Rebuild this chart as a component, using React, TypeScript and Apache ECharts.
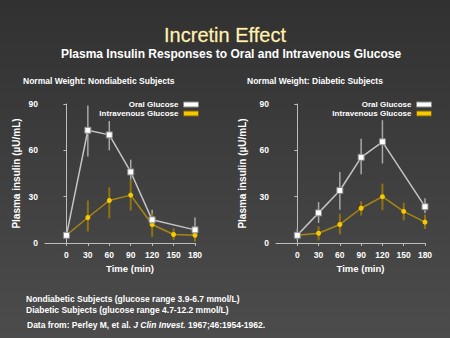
import React, { useEffect, useRef } from "react";
import * as echarts from "echarts";

const timeTicks = [0, 30, 60, 90, 120, 150, 180];
const yTicks = [0, 30, 60, 90];

// Nondiabetic subjects
const ndOralTimes = [0, 30, 60, 90, 120, 180];
const ndOralMean = [5, 73, 70, 46, 15, 8.5];
const ndOralLow = [5, 56, 60, 41, 10, 2];
const ndOralHigh = [5, 89, 79, 54, 21.5, 16.5];
const ndIvTimes = [0, 30, 60, 90, 120, 150, 180];
const ndIvMean = [5, 16.5, 27.5, 31, 12, 5.5, 5];
const ndIvLow = [5, 7.5, 16, 21, 4, 2, 1];
const ndIvHigh = [5, 27.5, 36, 41, 19, 9.5, 6.5];

// Diabetic subjects
const dOralTimes = [0, 30, 60, 90, 120, 180];
const dOralMean = [5, 19.5, 34, 55.5, 65.5, 23.5];
const dOralLow = [1.7, 13, 21.5, 44.5, 51.5, 19.5];
const dOralHigh = [9, 26.5, 46, 67.5, 79.5, 29];
const dIvTimes = [0, 30, 60, 90, 120, 150, 180];
const dIvMean = [5, 6.3, 12, 22.5, 30, 20.5, 13.5];
const dIvLow = [5, 1.7, 5.6, 17.8, 21.3, 14.7, 9];
const dIvHigh = [5, 10.8, 19, 27, 38.5, 26, 18.5];

const ORAL_LINE = "#c4c4c4";
const ORAL_BAR = "#a8a8a8";
const IV_LINE = "#a8870f";
const IV_BAR = "#8f7212";
const IV_FILL = "#f5c800";
const FONT = "Liberation Sans, Arial, sans-serif";

function pairs(t: number[], v: number[]) {
  return t.map((x, i) => [x, v[i]]);
}
function bars(t: number[], lo: number[], hi: number[]) {
  return t.map((x, i) => [x, lo[i], hi[i]]);
}

function errSeries(data: number[][], idx: number, color: string, width: number) {
  return {
    type: "custom",
    xAxisIndex: idx,
    yAxisIndex: idx,
    z: 1,
    silent: true,
    data,
    renderItem: (params: any, api: any) => {
      const a = api.coord([api.value(0), api.value(1)]);
      const b = api.coord([api.value(0), api.value(2)]);
      return {
        type: "line",
        shape: { x1: a[0], y1: a[1], x2: b[0], y2: b[1] },
        style: { stroke: color, lineWidth: width },
      };
    },
  };
}

function xAxis(idx: number, nameGap: number) {
  return {
    type: "value",
    gridIndex: idx,
    min: -30,
    max: 180,
    interval: 30,
    name: "Time (min)",
    nameLocation: "middle",
    nameGap,
    nameTextStyle: { color: "#ffffff", fontSize: 9.5, fontWeight: "bold", fontFamily: FONT, padding: [0, 0, 0, 20] },
    axisLine: { show: true, lineStyle: { color: "#bdbdbd", width: 1 } },
    axisTick: { show: true, length: 3, lineStyle: { color: "#bdbdbd" }, customValues: timeTicks },
    axisLabel: { color: "#ffffff", fontSize: 8.5, fontWeight: "bold", fontFamily: FONT, margin: 7, customValues: timeTicks },
    splitLine: { show: false },
  };
}

function yAxis(idx: number, nameGap: number) {
  return {
    type: "value",
    gridIndex: idx,
    min: 0,
    max: 90,
    interval: 30,
    name: "Plasma insulin (\u00b5U/mL)",
    nameLocation: "middle",
    nameGap,
    nameTextStyle: { color: "#ffffff", fontSize: 10, fontWeight: "bold", fontFamily: FONT },
    axisLine: { show: true, lineStyle: { color: "#bdbdbd", width: 1 } },
    axisTick: { show: true, length: 3, lineStyle: { color: "#bdbdbd" }, customValues: yTicks },
    axisLabel: { color: "#ffffff", fontSize: 8.5, fontWeight: "bold", fontFamily: FONT, margin: 7, customValues: yTicks },
    splitLine: { show: false },
  };
}

function legend(right: number) {
  return {
    orient: "vertical",
    right,
    top: 100,
    padding: 0,
    align: "right",
    itemWidth: 15,
    itemHeight: 5,
    itemGap: 0,
    selectedMode: false,
    textStyle: { color: "#ffffff", fontSize: 8, fontWeight: "bold", fontFamily: FONT, lineHeight: 9 },
    data: [
      { name: "Oral Glucose", icon: "rect", itemStyle: { color: "#ffffff", borderColor: "#888", borderWidth: 1 } },
      { name: "Intravenous Glucose", icon: "rect", itemStyle: { color: IV_FILL, borderColor: "#7a6010", borderWidth: 1 } },
    ],
  };
}

function lineSeries(name: string, data: number[][], idx: number, oral: boolean) {
  return {
    name,
    type: "line",
    xAxisIndex: idx,
    yAxisIndex: idx,
    data,
    z: oral ? 4 : 3,
    symbol: oral ? "rect" : "circle",
    symbolSize: oral ? 6 : 5,
    showSymbol: true,
    lineStyle: { color: oral ? ORAL_LINE : IV_LINE, width: 1.5 },
    itemStyle: oral
      ? { color: "#ffffff", borderColor: "#8a8a8a", borderWidth: 1, opacity: 1 }
      : { color: IV_FILL, borderColor: IV_FILL, borderWidth: 0, opacity: 1 },
  };
}

export default function App() {
  const ref = useRef<HTMLDivElement>(null);
  useEffect(() => {
    if (!ref.current) return;
    const chart = echarts.init(ref.current, null, { renderer: "svg" });
    chart.setOption({
      animation: false,
      backgroundColor: {
        type: "linear",
        x: 0,
        y: 0,
        x2: 0,
        y2: 1,
        colorStops: [
          { offset: 0, color: "#313131" },
          { offset: 1, color: "#4c4c4c" },
        ],
      },
      textStyle: { fontFamily: FONT },
      grid: [
        { left: 45, right: 255, top: 104, bottom: 95, containLabel: false },
        { left: 276, right: 25, top: 104, bottom: 95, containLabel: false },
      ],
      xAxis: [xAxis(0, 20), xAxis(1, 20)],
      yAxis: [yAxis(0, 24), yAxis(1, 29)],
      legend: [legend(251), legend(18)],
      graphic: [
        {
          type: "text",
          left: "center",
          top: 25,
          style: { text: "Incretin Effect", fill: "#fbf1c4", font: `20px ${FONT}`, stroke: "#c9a514", lineWidth: 0.4 },
        },
        {
          type: "text",
          left: 61,
          top: 48,
          style: { text: "Plasma Insulin Responses to Oral and Intravenous Glucose", fill: "#ffffff", font: `bold 12px ${FONT}` },
        },
        {
          type: "text",
          left: 23,
          top: 76,
          style: { text: "Normal Weight: Nondiabetic Subjects", fill: "#ffffff", font: `bold 8.5px ${FONT}` },
        },
        {
          type: "text",
          left: 247,
          top: 76,
          style: { text: "Normal Weight: Diabetic Subjects", fill: "#ffffff", font: `bold 8.5px ${FONT}` },
        },
        {
          type: "text",
          left: 26,
          top: 294,
          style: { text: "Nondiabetic Subjects (glucose range 3.9-6.7 mmol/L)", fill: "#ffffff", font: `bold 8.5px ${FONT}` },
        },
        {
          type: "text",
          left: 26,
          top: 305,
          style: { text: "Diabetic Subjects (glucose range 4.7-12.2 mmol/L)", fill: "#ffffff", font: `bold 8.5px ${FONT}` },
        },
        {
          type: "text",
          left: 27,
          top: 320,
          style: {
            text: "{n|Data from: Perley M, et al. }{i|J Clin Invest.}{n| 1967;46:1954-1962.}",
            rich: {
              n: { fill: "#ffffff", font: `bold 8.5px ${FONT}` },
              i: { fill: "#ffffff", font: `italic bold 8.5px ${FONT}` },
            },
          },
        },
      ],
      series: [
        errSeries(bars(ndOralTimes, ndOralLow, ndOralHigh), 0, ORAL_BAR, 1.5),
        errSeries(bars(ndIvTimes, ndIvLow, ndIvHigh), 0, IV_BAR, 2),
        lineSeries("Intravenous Glucose", pairs(ndIvTimes, ndIvMean), 0, false),
        lineSeries("Oral Glucose", pairs(ndOralTimes, ndOralMean), 0, true),
        errSeries(bars(dOralTimes, dOralLow, dOralHigh), 1, ORAL_BAR, 1.5),
        errSeries(bars(dIvTimes, dIvLow, dIvHigh), 1, IV_BAR, 2),
        lineSeries("Intravenous Glucose", pairs(dIvTimes, dIvMean), 1, false),
        lineSeries("Oral Glucose", pairs(dOralTimes, dOralMean), 1, true),
      ],
    });
    return () => chart.dispose();
  }, []);
  return <div ref={ref} style={{ width: 450, height: 338, position: "fixed", left: 0, top: 0 }} />;
}
